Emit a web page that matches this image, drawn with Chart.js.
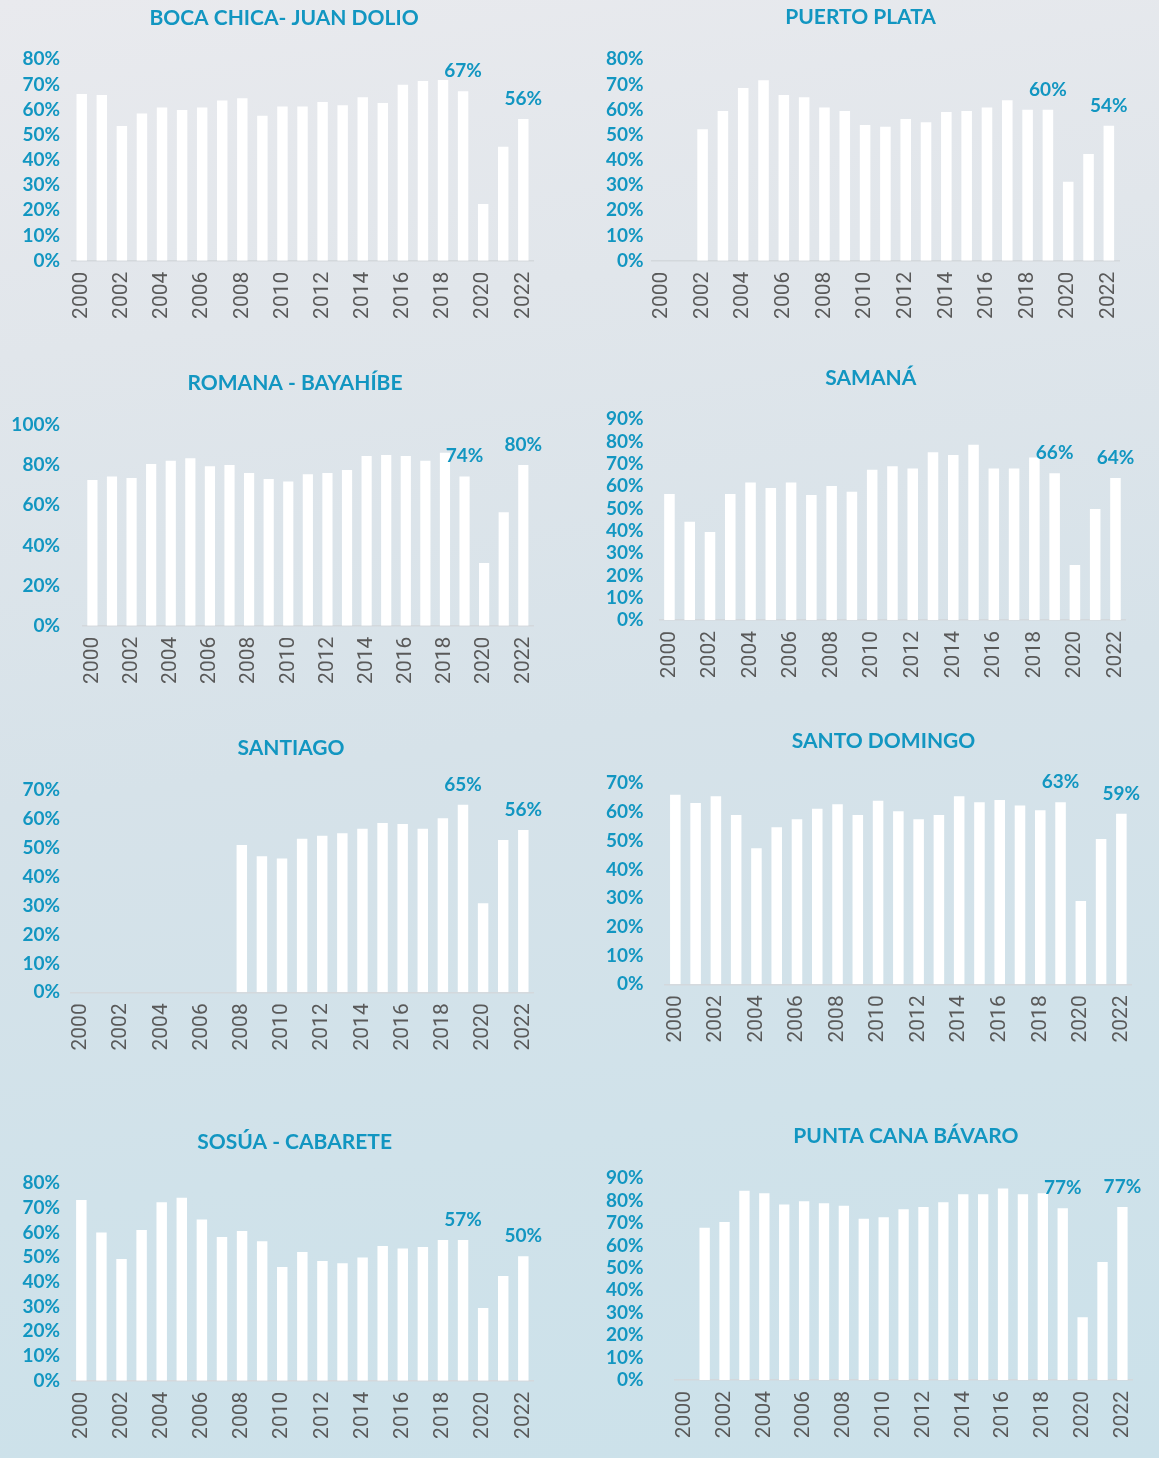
<!DOCTYPE html>
<html><head><meta charset="utf-8">
<script src="https://cdn.jsdelivr.net/npm/chart.js@4.4.1/dist/chart.umd.min.js"></script>
<style>
html,body{margin:0;padding:0;}
body{width:1159px;height:1458px;position:relative;overflow:hidden;
background:linear-gradient(172deg,#e9eaee 0%,#e1e6eb 22%,#d6e2e9 50%,#d0e2ea 75%,#cbe1ea 100%);}
canvas{position:absolute;}
</style></head><body>
<canvas id="c1"></canvas><canvas id="c2"></canvas><canvas id="c3"></canvas><canvas id="c4"></canvas>
<canvas id="c5"></canvas><canvas id="c6"></canvas><canvas id="c7"></canvas><canvas id="c8"></canvas>
<script>
// ---- DATA ----
const years = ['2000','2001','2002','2003','2004','2005','2006','2007','2008','2009','2010','2011',
               '2012','2013','2014','2015','2016','2017','2018','2019','2020','2021','2022'];
const labeledYears = ['2019','2022'];
const titles = ['BOCA CHICA- JUAN DOLIO','PUERTO PLATA','ROMANA - BAYAHÍBE','SAMANÁ',
                'SANTIAGO','SANTO DOMINGO','SOSÚA - CABARETE','PUNTA CANA BÁVARO'];
const bocaChica    = [66.2,65.8,53.5,58.5,60.9,59.9,60.9,63.6,64.5,57.6,61.3,61.3,63.0,61.7,64.9,62.6,69.9,71.4,71.8,67.3,22.5,45.3,56.3];
const puertoPlata  = [null,null,52.2,59.5,68.6,71.7,65.8,64.9,60.9,59.5,53.9,53.2,56.3,55.0,59.1,59.5,60.9,63.7,60.0,60.0,31.4,42.4,53.6];
const romana       = [72.6,74.3,73.6,80.6,82.2,83.4,79.4,80.1,76.1,73.1,71.9,75.4,76.1,77.6,84.6,85.0,84.6,82.2,86.2,74.4,31.2,56.5,80.1];
const samana       = [56.5,44.1,39.5,56.5,61.7,59.2,61.7,56.1,60.1,57.5,67.4,68.9,67.9,75.2,74.0,78.6,67.9,67.9,72.9,65.8,24.7,49.8,63.7];
const santiago     = [null,null,null,null,null,null,null,null,51.0,47.1,46.3,53.1,54.2,55.0,56.6,58.6,58.2,56.6,60.2,64.9,30.8,52.7,56.2];
const santoDomingo = [66.0,63.1,65.5,59.0,47.4,54.7,57.5,61.1,62.7,59.0,63.9,60.3,57.5,59.0,65.5,63.4,64.2,62.3,60.6,63.4,29.0,50.6,59.4];
const sosua        = [73.2,60.1,49.3,61.1,72.3,74.1,65.3,58.2,60.7,56.5,46.1,52.2,48.5,47.6,49.9,54.6,53.6,54.2,57.0,57.0,29.5,42.4,50.4];
const puntaCana    = [null,67.9,70.5,84.4,83.3,78.3,79.8,78.9,77.7,72.0,72.6,76.2,77.2,79.3,82.9,82.9,85.4,82.9,83.3,76.6,28.0,52.7,77.2];
const yMax  = [80,80,100,90,70,70,80,90];
const yStep = [10,10,20,10,10,10,10,10];
const series = [bocaChica,puertoPlata,romana,samana,santiago,santoDomingo,sosua,puntaCana];

// ---- LAYOUT ----
const TEAL = '#1296c1';
const layoutBoxes = [
 {x0:0,  w:560,y0:0,   h:340,aL:71.7, aR:537,   aT:59.3,  aB:260.7, tc:284,  ty:18,    lr:60},
 {x0:580,w:579,y0:0,   h:340,aL:651.8,aR:1119,  aT:59.3,  aB:260.7, tc:860.6,ty:17.5,  lr:643.5},
 {x0:0,  w:560,y0:360, h:340,aL:82.6, aR:537.4, aT:425,   aB:625.7, tc:295,  ty:383,   lr:60},
 {x0:580,w:579,y0:360, h:340,aL:659.3,aR:1125.6,aT:419.3, aB:620,   tc:870.8,ty:378,   lr:643.5},
 {x0:0,  w:560,y0:720, h:360,aL:70.9, aR:537.3, aT:790,   aB:992.3, tc:291,  ty:748,   lr:60},
 {x0:580,w:579,y0:720, h:360,aL:665.2,aR:1131.5,aT:783.3, aB:984.3, tc:883.5,ty:741.7, lr:643.5},
 {x0:0,  w:560,y0:1110,h:348,aL:71.3, aR:537.6, aT:1183.3,aB:1380.7,tc:294.6,ty:1142.7,lr:60},
 {x0:580,w:579,y0:1110,h:348,aL:674.8,aR:1141.1,aT:1178.3,aB:1380,  tc:905.9,ty:1136.7,lr:643.5}
];

const valueLabels = {
  id:'valueLabels',
  afterDatasetsDraw(chart){
    const ctx = chart.ctx, meta = chart.getDatasetMeta(0), ds = chart.data.datasets[0].data;
    ctx.save();
    ctx.font = 'bold 19px Lato';
    ctx.fillStyle = TEAL; ctx.textAlign = 'center'; ctx.textBaseline = 'alphabetic';
    labeledYears.forEach(y => {
      const i = chart.data.labels.indexOf(y);
      if (i < 0 || ds[i] == null) return;
      const el = meta.data[i];
      ctx.fillText(Math.round(ds[i]) + '%', el.x, el.y - 14);
    });
    ctx.restore();
  }
};

// re-centre the title block horizontally on the panel's title centre
const titleCentre = {
  id:'titleCentre',
  afterLayout(chart, args, opts){
    const tb = chart.titleBlock;
    if (!tb) return;
    const half = (tb.right - tb.left)/2;
    tb.left = opts.cx - half; tb.right = opts.cx + half;
  }
};

function build(k){
  const g = layoutBoxes[k];
  const cv = document.getElementById('c'+(k+1));
  cv.width = g.w; cv.height = g.h;
  cv.style.left = g.x0+'px'; cv.style.top = g.y0+'px';
  const FS = 21, LH = 1.2;
  const padR = g.x0 + g.w - g.aR;
  const tTop = g.ty - g.y0 - FS*LH/2;
  const tBot = g.aT - g.y0 - tTop - FS*LH;
  new Chart(cv, {
    type:'bar',
    data:{labels:years, datasets:[{data:series[k], backgroundColor:'#ffffff', borderWidth:0,
          barPercentage:0.52, categoryPercentage:1}]},
    options:{
      responsive:false, animation:false, devicePixelRatio:1,
      layout:{padding:{left:0,right:padR,top:0,bottom:0}},
      plugins:{
        legend:{display:false}, tooltip:{enabled:false},
        title:{display:true, text:titles[k], color:TEAL,
               font:{family:'Lato', size:FS, weight:'bold', lineHeight:LH},
               padding:{top:tTop,bottom:tBot}},
        titleCentre:{cx:g.tc - g.x0}
      },
      scales:{
        x:{grid:{display:false,drawTicks:false},
           border:{display:true,color:'#d3d8dc',width:1.5},
           ticks:{autoSkip:false,minRotation:90,maxRotation:90,padding:11,color:'#595959',
                  font:{family:'Roboto',size:21},
                  callback:(v,i)=> i%2===0 ? years[i] : ''},
           afterFit:(s)=>{ s.height = g.y0 + g.h - g.aB; }},
        y:{min:0,max:yMax[k],
           grid:{display:false,drawTicks:false}, border:{display:false},
           ticks:{stepSize:yStep[k], autoSkip:false, padding:g.aL - g.lr, color:TEAL,
                  font:{family:'Lato',size:19,weight:'bold',lineHeight:1},
                  callback:v=> v+'%'},
           afterFit:(s)=>{ s.width = g.aL - g.x0; }}
      }
    },
    plugins:[valueLabels, titleCentre]
  });
}
for (let k=0;k<8;k++) build(k);
</script>
</body></html>
